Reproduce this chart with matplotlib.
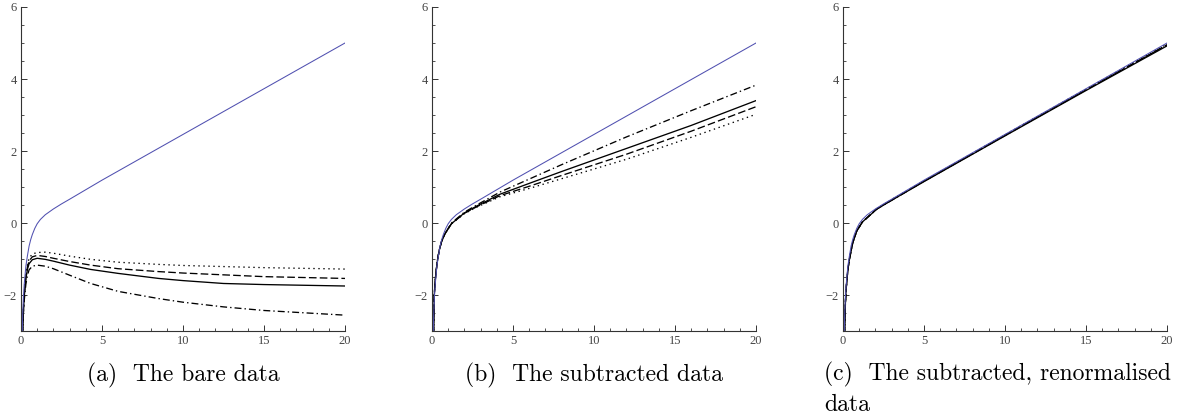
import numpy as np
import matplotlib
matplotlib.use("Agg")
import matplotlib.pyplot as plt
from matplotlib.ticker import MultipleLocator

plt.rcParams["lines.scale_dashes"] = False

# ---- data ----
# reference (blue) curve, same in all three panels
x_blue = [0.07, 0.1, 0.15, 0.2, 0.3, 0.4, 0.5, 0.6, 0.7, 0.85, 1.0, 1.2, 1.5, 2.0, 2.5, 3, 5, 10, 15, 20]
y_blue = [-3.4, -2.6, -2.05, -1.7, -1.2, -0.9, -0.64, -0.46, -0.32, -0.15, -0.02, 0.10, 0.23, 0.39, 0.53, 0.66, 1.19, 2.46, 3.73, 5.0]

# (a) bare data
xa = [0.07, 0.1, 0.15, 0.2, 0.3, 0.4, 0.5, 0.7, 1.0, 1.5, 2, 3, 4.3, 6, 8.5, 10, 12.5, 15, 20]
a_solid = [-3.4, -3.0, -2.45, -2.05, -1.55, -1.28, -1.13, -1.02, -0.98, -1.01, -1.06, -1.17, -1.29, -1.40, -1.54, -1.60, -1.68, -1.71, -1.75]
a_dashed = [-3.4, -3.0, -2.4, -2.0, -1.5, -1.22, -1.05, -0.94, -0.90, -0.93, -0.98, -1.07, -1.17, -1.27, -1.35, -1.39, -1.44, -1.49, -1.54]
a_dotted = [-3.4, -3.0, -2.35, -1.95, -1.45, -1.15, -0.98, -0.86, -0.82, -0.81, -0.84, -0.92, -1.01, -1.09, -1.15, -1.18, -1.21, -1.24, -1.28]
a_dashdot = [-3.4, -3.0, -2.5, -2.15, -1.7, -1.45, -1.3, -1.2, -1.17, -1.2, -1.27, -1.45, -1.68, -1.90, -2.10, -2.20, -2.33, -2.43, -2.56]

# (b) subtracted data
xb = [0.08, 0.1, 0.14, 0.2, 0.25, 0.35, 0.45, 0.6, 0.8, 1.2, 2.0, 2.8, 4.2, 6, 8, 12, 16, 20]
b_solid = [-3.4, -3.0, -2.0, -1.6, -1.35, -1.0, -0.75, -0.5, -0.3, -0.02, 0.28, 0.48, 0.80, 1.10, 1.43, 2.07, 2.71, 3.40]
b_dashed = [-3.4, -3.0, -2.0, -1.6, -1.35, -1.0, -0.75, -0.5, -0.3, -0.02, 0.27, 0.46, 0.76, 1.02, 1.32, 1.91, 2.55, 3.23]
b_dotted = [-3.4, -3.0, -2.0, -1.6, -1.35, -1.0, -0.75, -0.5, -0.3, -0.02, 0.26, 0.45, 0.73, 0.96, 1.23, 1.77, 2.38, 3.02]
b_dashdot = [-3.4, -3.0, -2.0, -1.6, -1.35, -1.0, -0.75, -0.5, -0.3, 0.0, 0.30, 0.51, 0.86, 1.22, 1.62, 2.39, 3.12, 3.83]

# (c) subtracted, renormalised data
xc = [0.08, 0.1, 0.15, 0.2, 0.3, 0.4, 0.6, 0.85, 1.2, 2.1, 3, 5, 10, 15, 20]
c_solid = [-3.4, -3.0, -2.2, -1.8, -1.3, -1.0, -0.55, -0.22, 0.03, 0.39, 0.63, 1.15, 2.42, 3.68, 4.92]
c_dashed = [-3.4, -3.0, -2.2, -1.8, -1.3, -1.0, -0.55, -0.22, 0.03, 0.40, 0.64, 1.16, 2.44, 3.70, 4.95]
c_dotted = [-3.4, -3.0, -2.2, -1.8, -1.3, -1.0, -0.55, -0.22, 0.03, 0.40, 0.65, 1.17, 2.45, 3.72, 4.97]
c_dashdot = [-3.4, -3.0, -2.2, -1.8, -1.3, -1.0, -0.55, -0.22, 0.03, 0.39, 0.63, 1.16, 2.43, 3.70, 4.95]

captions = ["(a)  The bare data", "(b)  The subtracted data"]
caption_c = ["(c)  The subtracted, renormalised", "data"]

blue = "#5050b0"
styles = {"solid": "-", "dashed": (0, (5.5, 2.3)), "dotted": (0, (1.0, 2.6)),
          "dashdot": (0, (5.0, 2.2, 1.0, 2.2))}

fig = plt.figure(figsize=(11.88, 4.18), dpi=100)
lefts = [21, 432, 843]
axes = [fig.add_axes([l / 1188, (418 - 331) / 418, 324 / 1188, 324 / 418]) for l in lefts]

panels = [
    (xa, [a_solid, a_dashed, a_dotted, a_dashdot]),
    (xb, [b_solid, b_dashed, b_dotted, b_dashdot]),
    (xc, [c_solid, c_dashed, c_dotted, c_dashdot]),
]

for ax, (xs, curves) in zip(axes, panels):
    for ys, key in zip(curves, ["solid", "dashed", "dotted", "dashdot"]):
        ax.plot(xs, ys, color="black", lw=0.95, linestyle=styles[key])
    ax.plot(x_blue, y_blue, color=blue, lw=0.75)
    ax.set_xlim(0, 20)
    ax.set_ylim(-3, 6)
    for s in ["top", "right"]:
        ax.spines[s].set_visible(False)
    for s in ["left", "bottom"]:
        ax.spines[s].set_color("#333333")
        ax.spines[s].set_linewidth(0.8)
    ax.xaxis.set_major_locator(MultipleLocator(5))
    ax.xaxis.set_minor_locator(MultipleLocator(1))
    ax.yaxis.set_major_locator(MultipleLocator(2))
    ax.yaxis.set_minor_locator(MultipleLocator(0.5))
    ax.tick_params(which="major", direction="in", length=4, width=0.7, color="#333333",
                   labelsize=9, labelcolor="#444444", pad=3)
    ax.tick_params(which="minor", direction="in", length=2.2, width=0.6, color="#333333")
    for lab in ax.get_xticklabels() + ax.get_yticklabels():
        lab.set_family("Liberation Serif")
    ax.patch.set_alpha(0)

cap_kw = dict(family="cmr10", fontsize=17)
fig.text(183 / 1188, 1 - 375 / 418, captions[0], ha="center", va="center", **cap_kw)
fig.text(594 / 1188, 1 - 375 / 418, captions[1], ha="center", va="center", **cap_kw)
fig.text(824 / 1188, 1 - 374 / 418, caption_c[0], ha="left", va="center", **cap_kw)
fig.text(824 / 1188, 1 - 405 / 418, caption_c[1], ha="left", va="center", **cap_kw)

fig.savefig("out.png", dpi=100)
